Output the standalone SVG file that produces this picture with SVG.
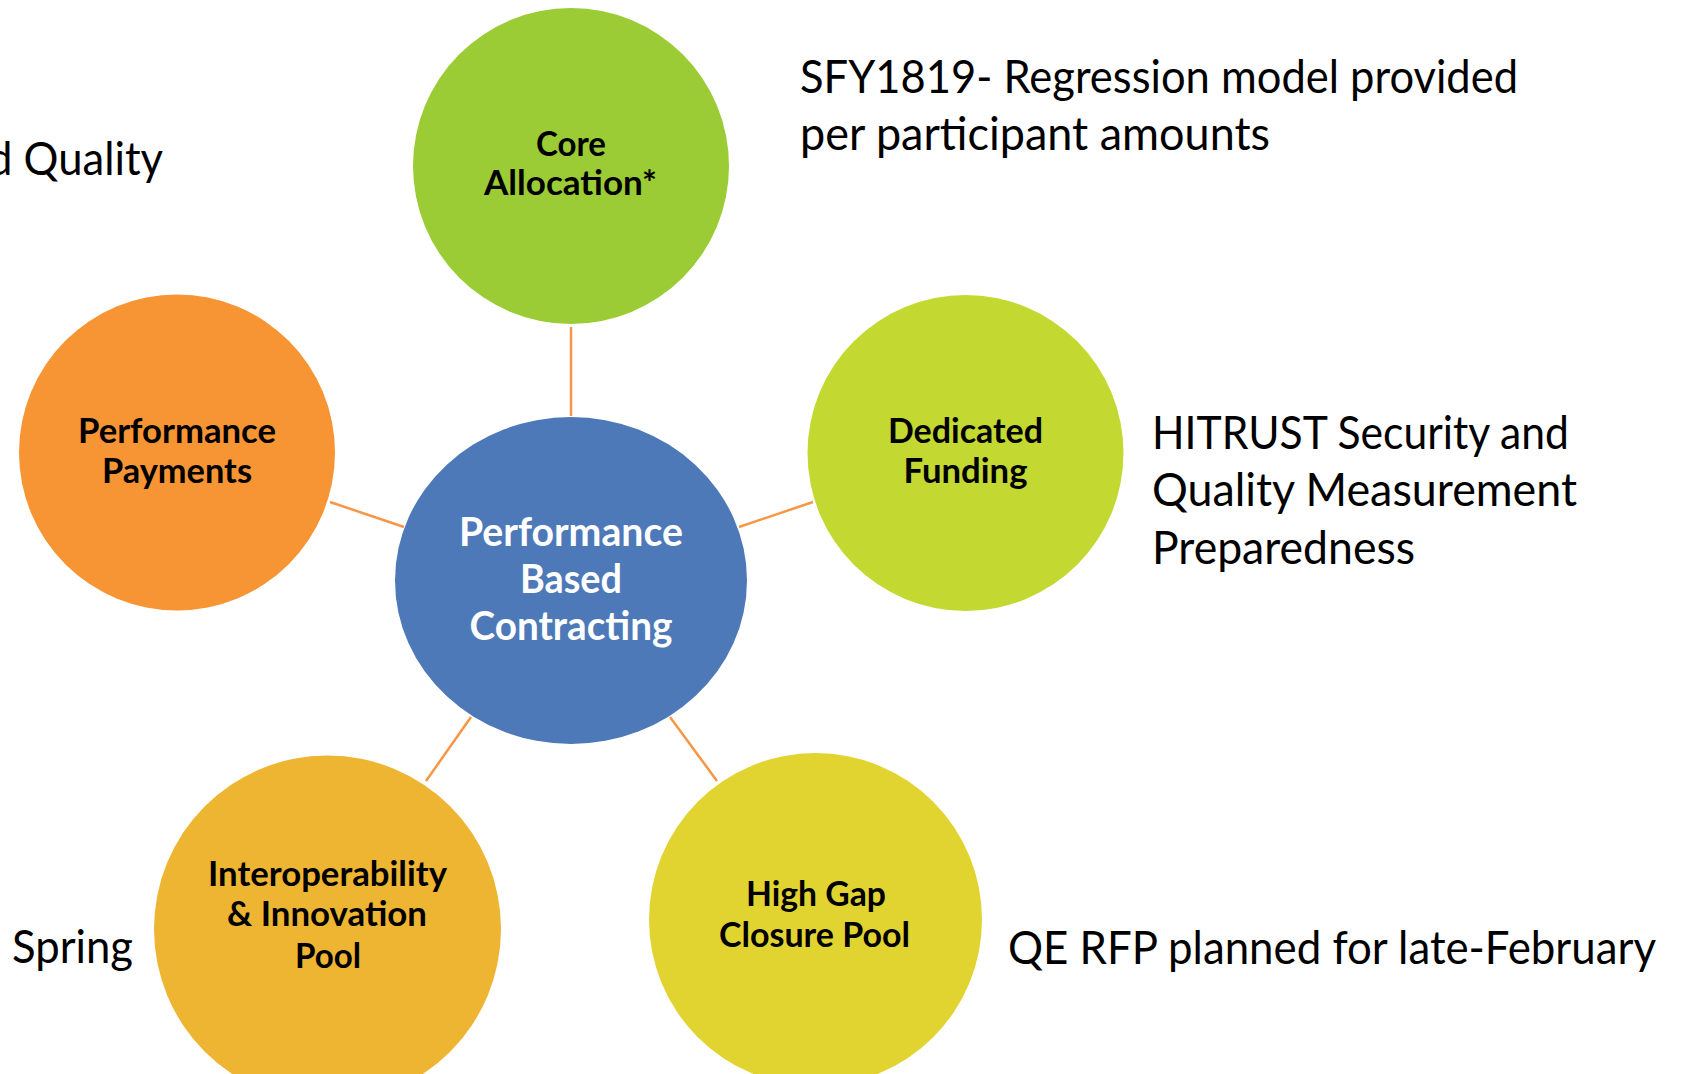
<svg xmlns="http://www.w3.org/2000/svg" width="1681" height="1074" viewBox="0 0 1681 1074">
  <style>
    .link { stroke: #F79646; stroke-width: 2.5; fill: none; }
    .label { font-family: Lato, "Open Sans", sans-serif; font-weight: 700; fill: #000; text-anchor: middle; font-size: 34px; }
    .hub { font-family: Lato, "Open Sans", sans-serif; font-weight: 700; fill: #fff; text-anchor: middle; font-size: 40px; }
    .note { font-family: Lato, "Open Sans", sans-serif; font-weight: 400; fill: #000; font-size: 46px; }
  </style>
  <rect width="1681" height="1074" fill="#fff"/>

  <!-- spokes from the hub to each satellite -->
  <g id="connectors">
    <line class="link" x1="571" y1="327" x2="571" y2="416"/>
    <line class="link" x1="330" y1="502" x2="404" y2="527"/>
    <line class="link" x1="739" y1="527" x2="813" y2="502"/>
    <line class="link" x1="471" y1="717" x2="426" y2="781"/>
    <line class="link" x1="670" y1="717" x2="717" y2="781"/>
  </g>

  <g id="hub">
    <ellipse cx="571" cy="580.5" rx="176" ry="163.5" fill="#4D79B9"/>
    <text class="hub" x="571" y="546" textLength="224" lengthAdjust="spacingAndGlyphs">Performance</text>
    <text class="hub" x="571" y="593" textLength="102" lengthAdjust="spacingAndGlyphs">Based</text>
    <text class="hub" x="571" y="640" textLength="203" lengthAdjust="spacingAndGlyphs">Contracting</text>
  </g>

  <g id="core-allocation">
    <circle cx="571" cy="166" r="158" fill="#9BCB35"/>
    <text class="label" x="571" y="156" textLength="70" lengthAdjust="spacingAndGlyphs">Core</text>
    <text class="label" x="570.5" y="195" textLength="173" lengthAdjust="spacingAndGlyphs">Allocation*</text>
  </g>

  <g id="performance-payments">
    <circle cx="177" cy="452.5" r="158" fill="#F79433"/>
    <text class="label" x="177" y="443" textLength="198" lengthAdjust="spacingAndGlyphs">Performance</text>
    <text class="label" x="177" y="483" textLength="150" lengthAdjust="spacingAndGlyphs">Payments</text>
  </g>

  <g id="dedicated-funding">
    <circle cx="965.5" cy="453" r="158" fill="#C3D932"/>
    <text class="label" x="965.5" y="443" textLength="155" lengthAdjust="spacingAndGlyphs">Dedicated</text>
    <text class="label" x="965.5" y="483" textLength="124" lengthAdjust="spacingAndGlyphs">Funding</text>
  </g>

  <g id="interoperability-pool">
    <circle cx="327.5" cy="929" r="173.5" fill="#EDB532"/>
    <text class="label" x="327.5" y="886" textLength="239" lengthAdjust="spacingAndGlyphs">Interoperability</text>
    <text class="label" x="327" y="926" textLength="200" lengthAdjust="spacingAndGlyphs">&amp; Innovation</text>
    <text class="label" x="328" y="968" textLength="66" lengthAdjust="spacingAndGlyphs">Pool</text>
  </g>

  <g id="high-gap-pool">
    <circle cx="815.5" cy="919.5" r="166.5" fill="#E2D430"/>
    <text class="label" x="816" y="906" textLength="140" lengthAdjust="spacingAndGlyphs">High Gap</text>
    <text class="label" x="814.5" y="947" textLength="191" lengthAdjust="spacingAndGlyphs">Closure Pool</text>
  </g>

  <!-- side notes -->
  <g id="notes">
    <text class="note" x="-12" y="175" textLength="175" lengthAdjust="spacingAndGlyphs">d Quality</text>
    <text class="note" x="800" y="93" textLength="718" lengthAdjust="spacingAndGlyphs">SFY1819- Regression model provided</text>
    <text class="note" x="800" y="150" textLength="470" lengthAdjust="spacingAndGlyphs">per participant amounts</text>
    <text class="note" x="1152" y="449" textLength="417" lengthAdjust="spacingAndGlyphs">HITRUST Security and</text>
    <text class="note" x="1152" y="506" textLength="425" lengthAdjust="spacingAndGlyphs">Quality Measurement</text>
    <text class="note" x="1152" y="564" textLength="263" lengthAdjust="spacingAndGlyphs">Preparedness</text>
    <text class="note" x="12" y="963" textLength="121" lengthAdjust="spacingAndGlyphs">Spring</text>
    <text class="note" x="1008" y="964" textLength="648" lengthAdjust="spacingAndGlyphs">QE RFP planned for late-February</text>
  </g>
</svg>
